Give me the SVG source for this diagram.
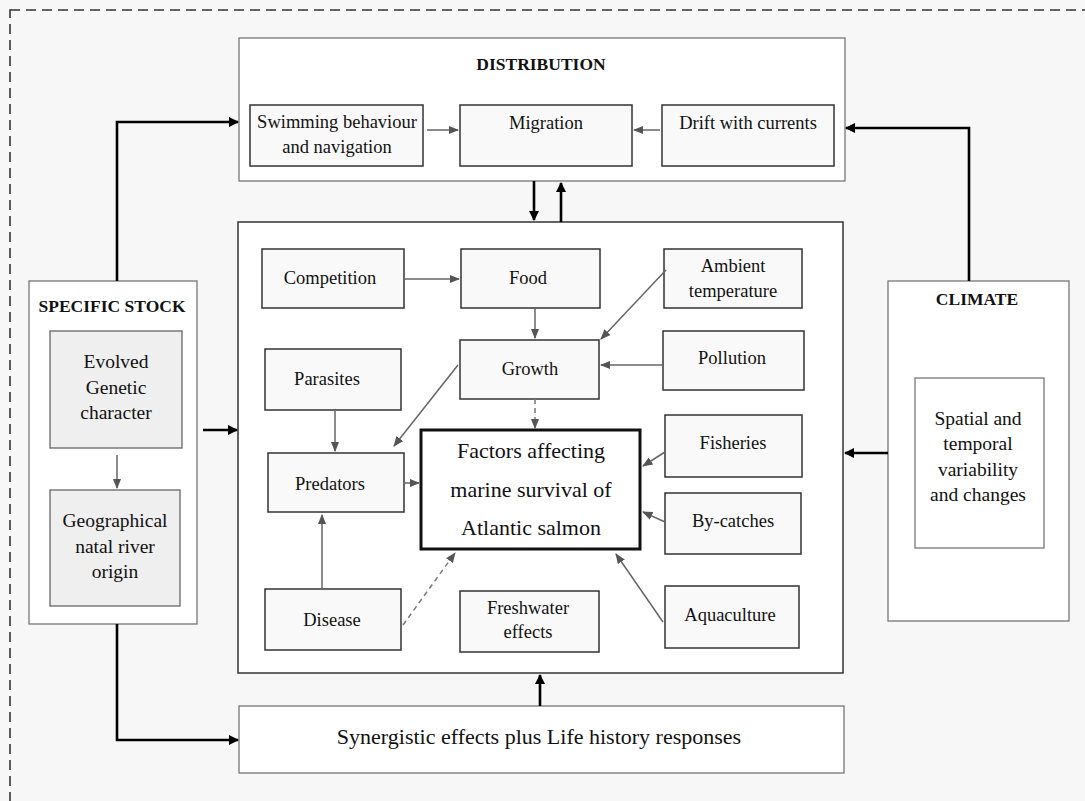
<svg xmlns="http://www.w3.org/2000/svg" width="1085" height="801" viewBox="0 0 1085 801">
<defs>
<style>
.bg{fill:#f7f7f7}
.frame{fill:none;stroke:#333;stroke-width:1.6;stroke-dasharray:10,6}
.big{fill:#fff;stroke:#777;stroke-width:1.3}
.main{fill:#fff;stroke:#333;stroke-width:1.5}
.box{fill:#f9f9f9;stroke:#333;stroke-width:1.5}
.gbox{fill:#efefef;stroke:#666;stroke-width:1.3}
.fact{fill:#fff;stroke:#111;stroke-width:3}
.t{font-family:"Liberation Serif",serif;font-size:18.5px;fill:#111;text-anchor:middle}
.ti{font-family:"Liberation Serif",serif;font-size:19.5px;fill:#111;text-anchor:middle}
.h{font-family:"Liberation Serif",serif;font-size:17.5px;font-weight:bold;fill:#111;text-anchor:middle}
.tf{font-family:"Liberation Serif",serif;font-size:22px;fill:#111;text-anchor:middle}
.ts{font-family:"Liberation Serif",serif;font-size:22px;fill:#111;text-anchor:middle}
.thick{fill:none;stroke:#000;stroke-width:2.6;marker-end:url(#ab)}
.thin{fill:none;stroke:#666;stroke-width:1.5;marker-end:url(#ag)}
.dash{fill:none;stroke:#777;stroke-width:1.5;stroke-dasharray:5,4;marker-end:url(#ag)}
</style>
<marker id="ab" viewBox="0 0 10 10" refX="9" refY="5" markerWidth="4" markerHeight="4" orient="auto" markerUnits="strokeWidth"><path d="M0,0 L10,5 L0,10 z" fill="#000"/></marker>
<marker id="ag" viewBox="0 0 10 10" refX="9" refY="5" markerWidth="7" markerHeight="7" orient="auto" markerUnits="strokeWidth"><path d="M0,1 L10,5 L0,9 z" fill="#555"/></marker>
</defs>
<rect class="bg" x="0" y="0" width="1085" height="801"/>
<rect class="frame" x="10" y="10" width="1090" height="810"/>

<g id="distribution">
<rect class="big" x="239" y="38" width="606" height="143"/>
<text class="h" x="541" y="70">DISTRIBUTION</text>
</g>
<g id="swimming">
<rect class="box" x="250" y="105" width="173" height="61"/>
<text class="t" x="337" y="128">Swimming behaviour</text>
<text class="t" x="337" y="153">and navigation</text>
</g>
<g id="migration">
<rect class="box" x="460" y="105" width="172" height="61"/>
<text class="t" x="546" y="129">Migration</text>
</g>
<g id="drift">
<rect class="box" x="662" y="105" width="172" height="61"/>
<text class="t" x="748" y="129">Drift with currents</text>
</g>

<g id="main">
<rect class="main" x="238" y="222" width="605" height="451"/>
</g>
<g id="competition">
<rect class="box" x="262" y="249" width="142" height="59"/>
<text class="t" x="330" y="284">Competition</text>
</g>
<g id="food">
<rect class="box" x="461" y="249" width="139" height="59"/>
<text class="t" x="528" y="284">Food</text>
</g>
<g id="ambient">
<rect class="box" x="664" y="249" width="138" height="59"/>
<text class="t" x="733" y="272">Ambient</text>
<text class="t" x="733" y="297">temperature</text>
</g>
<g id="parasites">
<rect class="box" x="265" y="349" width="136" height="61"/>
<text class="t" x="327" y="385">Parasites</text>
</g>
<g id="growth">
<rect class="box" x="460" y="340" width="139" height="59"/>
<text class="t" x="530" y="375">Growth</text>
</g>
<g id="pollution">
<rect class="box" x="663" y="331" width="141" height="59"/>
<text class="t" x="732" y="364">Pollution</text>
</g>
<g id="predators">
<rect class="box" x="268" y="453" width="136" height="59"/>
<text class="t" x="330" y="490">Predators</text>
</g>
<g id="factors">
<rect class="fact" x="421" y="430" width="219" height="119"/>
<text class="tf" x="531" y="458">Factors affecting</text>
<text class="tf" x="531" y="497">marine survival of</text>
<text class="tf" x="531" y="535">Atlantic salmon</text>
</g>
<g id="fisheries">
<rect class="box" x="665" y="415" width="137" height="62"/>
<text class="t" x="733" y="449">Fisheries</text>
</g>
<g id="bycatches">
<rect class="box" x="665" y="493" width="136" height="61"/>
<text class="t" x="733" y="527">By-catches</text>
</g>
<g id="disease">
<rect class="box" x="265" y="589" width="136" height="61"/>
<text class="t" x="332" y="626">Disease</text>
</g>
<g id="freshwater">
<rect class="box" x="460" y="591" width="139" height="61"/>
<text class="t" x="528" y="614">Freshwater</text>
<text class="t" x="528" y="638">effects</text>
</g>
<g id="aquaculture">
<rect class="box" x="665" y="586" width="134" height="62"/>
<text class="t" x="730" y="621">Aquaculture</text>
</g>

<g id="stock">
<rect class="big" x="29" y="281" width="168" height="343"/>
<text class="h" x="112" y="312">SPECIFIC STOCK</text>
</g>
<g id="evolved">
<rect class="gbox" x="50" y="331" width="132" height="117"/>
<text class="ti" x="116" y="368">Evolved</text>
<text class="ti" x="116" y="394">Genetic</text>
<text class="ti" x="116" y="419">character</text>
</g>
<g id="geographical">
<rect class="gbox" x="50" y="490" width="130" height="116"/>
<text class="ti" x="115" y="527">Geographical</text>
<text class="ti" x="115" y="553">natal river</text>
<text class="ti" x="115" y="578">origin</text>
</g>

<g id="climate">
<rect class="big" x="888" y="281" width="181" height="340"/>
<text class="h" x="977" y="305">CLIMATE</text>
</g>
<g id="spatial">
<rect class="big" x="915" y="378" width="129" height="170"/>
<text class="ti" x="978" y="425">Spatial and</text>
<text class="ti" x="978" y="450">temporal</text>
<text class="ti" x="978" y="476">variability</text>
<text class="ti" x="978" y="501">and changes</text>
</g>

<g id="synergistic">
<rect class="big" x="239" y="706" width="605" height="67"/>
<text class="ts" x="539" y="744">Synergistic effects plus Life history responses</text>
</g>

<g id="connectors">
<path class="thick" d="M117,281 V122 H238"/>
<path class="thick" d="M969,281 V128 H846"/>
<path class="thick" d="M203,430 H237"/>
<path class="thick" d="M888,453 H845"/>
<path class="thick" d="M117,624 V740 H238"/>
<path class="thick" d="M540,706 V675"/>
<path class="thick" d="M534,181 V220"/>
<path class="thick" d="M561,222 V183"/>
<path class="thin" d="M427,130 H458"/>
<path class="thin" d="M660,130 H634"/>
<path class="thin" d="M117,455 V488"/>
<path class="thin" d="M404,279 H459"/>
<path class="thin" d="M535,308 V338"/>
<path class="thin" d="M666,270 L601,339"/>
<path class="thin" d="M663,365 H601"/>
<path class="thin" d="M458,365 L394,446"/>
<path class="thin" d="M335,410 V451"/>
<path class="dash" d="M535,399 V428"/>
<path class="thin" d="M405,483 H419"/>
<path class="thin" d="M665,452 L643,466"/>
<path class="thin" d="M665,522 L643,512"/>
<path class="thin" d="M663,622 L616,554"/>
<path class="dash" d="M403,625 L455,553"/>
<path class="thin" d="M322,589 V515"/>
</g>
</svg>
